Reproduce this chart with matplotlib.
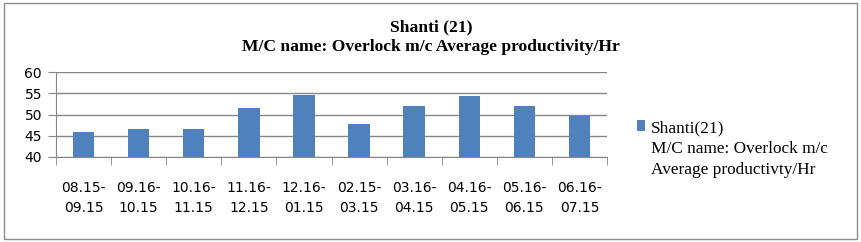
import numpy as np
import matplotlib
matplotlib.use("Agg")
import matplotlib.pyplot as plt
from matplotlib.patches import Rectangle

# dados do grafico
periodos = ["08.15-\n09.15", "09.16-\n10.15", "10.16-\n11.15", "11.16-\n12.15", "12.16-\n01.15",
            "02.15-\n03.15", "03.16-\n04.15", "04.16-\n05.15", "05.16-\n06.15", "06.16-\n07.15"]
produtividade = [46.0, 46.7, 46.7, 51.6, 54.6, 47.8, 52.0, 54.4, 52.0, 49.7]
yticks = [40, 45, 50, 55, 60]
titulo = "Shanti (21)\nM/C name: Overlock m/c Average productivity/Hr"
legenda = ["Shanti(21)", "M/C name: Overlock m/c", "Average productivty/Hr"]

W, H = 862, 242
fig = plt.figure(figsize=(W / 100, H / 100), dpi=100)

# borda da figura
fig.patches.append(Rectangle((4 / W, 3 / H), 853 / W, 236 / H, transform=fig.transFigure,
                             fill=False, edgecolor="#8c8c8c", linewidth=1))

ax = fig.add_axes([56 / W, (H - 157) / H, 551 / W, 85 / H])
x = np.arange(len(periodos))
barras = ax.bar(x, produtividade, width=0.39, color="#4F81BD", zorder=3)

ax.set_xlim(-0.5, len(periodos) - 0.5)
ax.set_ylim(40, 60)
ax.set_yticks(yticks)
ax.set_xticks(x)
ax.set_xticklabels(periodos, fontsize=10, linespacing=1.55)
ax.set_xticks(np.arange(-0.5, len(periodos)), minor=True)
ax.tick_params(axis="x", which="major", length=0, pad=17)
ax.tick_params(axis="x", which="minor", length=6, color="#868686")
ax.tick_params(axis="y", length=6, color="#868686", labelsize=10, pad=4)

ax.grid(axis="y", color="#868686", linewidth=1, zorder=0)
for lado in ["top", "right"]:
    ax.spines[lado].set_visible(False)
for lado in ["left", "bottom"]:
    ax.spines[lado].set_color("#868686")

fig.text(431 / W, 1 - 37 / H, titulo, ha="center", va="center", fontsize=12.6,
         fontweight="bold", family="Liberation Serif", linespacing=1.3)

# legenda: so a primeira linha tem o marcador
vazio = Rectangle((0, 0), 1, 1, alpha=0)
fig.legend([barras, vazio, vazio], legenda, loc="upper left",
           bbox_to_anchor=(637 / W, 1 - 120 / H), frameon=False,
           prop={"family": "Liberation Serif", "size": 12.4}, handlelength=0.45,
           handleheight=0.6, handletextpad=0.35, borderpad=0, borderaxespad=0,
           labelspacing=0.3)

fig.savefig("out.png", dpi=100)
